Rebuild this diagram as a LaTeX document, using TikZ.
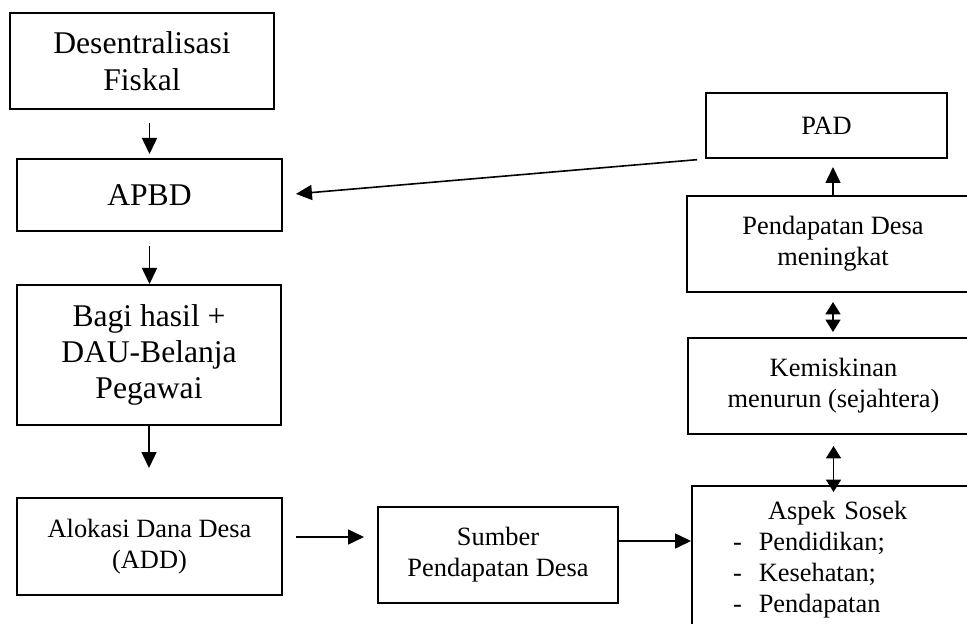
\documentclass[tikz,border=0pt]{standalone}
\usepackage{fontspec}
\setmainfont{Liberation Serif}
\usepackage{tikz}
\usetikzlibrary{arrows.meta}

\begin{document}
\begin{tikzpicture}[x=0.5pt, y=-0.5pt,
	box/.style={draw, line width=1pt, inner sep=0pt, align=center},
	bigtxt/.style={font=\fontsize{15.8pt}{18.2pt}\selectfont},
	smalltxt/.style={font=\fontsize{13.2pt}{15.5pt}\selectfont},
	arr/.style={line width=0.8pt, -{Triangle[length=8pt, width=7.5pt]}},
	dblarr/.style={line width=0.8pt, {Triangle[length=6.2pt, width=7.5pt]}-{Triangle[length=6.2pt, width=7.5pt]}}]
	% Frame
	\useasboundingbox (0,0) rectangle (967,624);
	\clip (0,0) rectangle (967,624);

	% Left column
	\node[box, bigtxt, minimum width=132pt, minimum height=48pt] (desen) at (142,61) {Desentralisasi\\Fiskal};
	\node[box, bigtxt, minimum width=132.5pt, minimum height=36pt] (apbd) at (149.5,195) {APBD};
	\node[box, bigtxt, minimum width=132pt, minimum height=70pt] (bagi) at (149,355) {Bagi hasil +\\DAU-Belanja\\Pegawai};
	\node[box, smalltxt, minimum width=132.5pt, minimum height=48.5pt] (alokasi) at (149.5,546.5) {Alokasi Dana Desa\\(ADD)};

	% Middle
	\node[box, smalltxt, minimum width=120pt, minimum height=48pt] (sumber) at (498,555) {Sumber\\Pendapatan Desa};

	% Right column
	\node[box, smalltxt, minimum width=120.5pt, minimum height=32.5pt] (pad) at (826.5,125.5) {PAD};
	\node[box, smalltxt, minimum width=146pt, minimum height=48pt] (pendapatan) at (833,244) {Pendapatan Desa\\meningkat};
	\node[box, smalltxt, minimum width=145.5pt, minimum height=48pt] (kemiskinan) at (833.5,386) {Kemiskinan\\menurun (sejahtera)};
	\node[box, smalltxt, anchor=north west, minimum width=144pt, minimum height=74pt,
		text width=103pt, inner xsep=20.5pt, align=left] (aspek) at (691,485)
		{\hspace*{17.5pt}Aspek Sosek\\-\hspace{8.5pt}Pendidikan;\\-\hspace{8.5pt}Kesehatan;\\-\hspace{8.5pt}Pendapatan};

	% Helper points
	\coordinate (aloout) at ([yshift=4.75pt]alokasi.east);
	\coordinate (sumout) at ([yshift=7pt]sumber.east);

	% Arrows down the left
	\draw[arr, shorten <=6.5pt, shorten >=2pt] (desen.south -| apbd.north) -- (apbd.north);
	\draw[arr, shorten <=7pt] (apbd.south) -- (apbd.south |- bagi.north);
	\draw[arr, shorten >=14.5pt] (bagi.south) -- (bagi.south |- alokasi.north);

	% Arrows along the bottom
	\draw[arr, shorten <=6.5pt, shorten >=6.5pt] (aloout) -- (aloout -| sumber.west);
	\draw[arr] (sumout) -- (sumout -| aspek.west);

	% Arrows up the right
	\draw[dblarr, shorten <=5.5pt, shorten >=-3.5pt] (kemiskinan.south) -- (kemiskinan.south |- aspek.north);
	\draw[dblarr, shorten <=4.5pt, shorten >=2.5pt] (pendapatan.south) -- (pendapatan.south |- kemiskinan.north);
	\draw[arr, shorten >=4pt] (pendapatan.north) -- (pendapatan.north |- pad.south);

	% PAD back to APBD
	\draw[arr, shorten <=4pt, shorten >=6.5pt] (pad.south west) -- (apbd.east);
\end{tikzpicture}
\end{document}
